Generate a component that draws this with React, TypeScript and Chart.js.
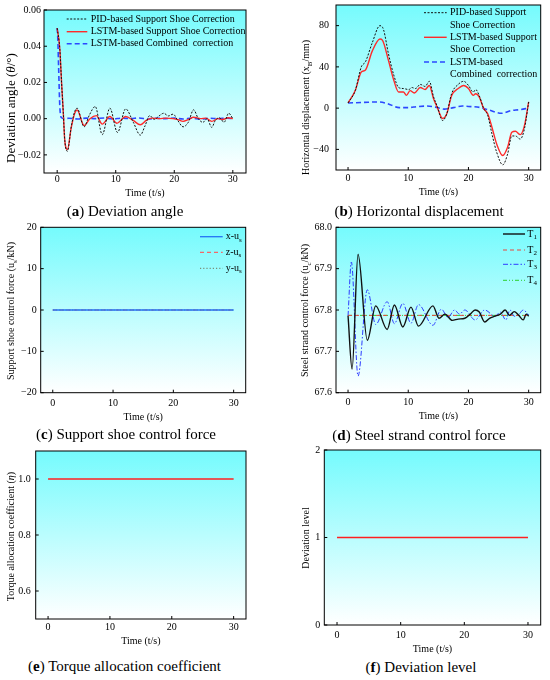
import { useEffect, useRef } from 'react';
import { Chart, registerables } from 'chart.js';

Chart.register(...registerables);

const SERIF = '"Liberation Serif", "Times New Roman", serif';

// ---- (a) deviation angle ----
const aPidT = [0, 0.45, 0.75, 1.05, 1.3, 1.75, 2.4, 3.0, 3.4, 4.6, 5.5, 6.5, 7.7, 9.0, 10.3, 11.7, 13.0, 14.2, 15.0, 15.8, 16.6, 17.4, 18.2, 19.0, 19.8, 20.6, 21.5, 22.4, 23.3, 24.1, 24.9, 25.6, 26.4, 27.0, 27.7, 28.5, 29.3, 30];
const aPidV = [0.05, 0.0385, 0.02, 0.003, -0.012, -0.018, -0.0045, 0.004, 0.0058, -0.0045, 0.002, 0.0067, -0.0088, 0.0058, -0.0076, 0.0054, -0.002, -0.0091, -0.004, 0.0017, -0.0004, 0.0015, 0.003, 0.0015, 0.0025, -0.001, -0.0045, -0.002, 0.0049, 0.0, -0.002, 0.0, -0.0048, -0.001, 0.0005, -0.002, 0.003, 0.0];
const aLstmT = [0, 0.45, 0.75, 1.05, 1.3, 1.75, 2.4, 3.0, 3.4, 4.6, 5.6, 6.7, 7.7, 9.0, 10.2, 11.7, 13.0, 14.2, 15.2, 16.2, 17.5, 18.5, 19.8, 20.6, 21.5, 22.4, 23.3, 24.5, 25.4, 26.4, 27.5, 28.3, 29.2, 30];
const aLstmV = [0.05, 0.0385, 0.02, 0.003, -0.012, -0.017, -0.005, 0.003, 0.0048, -0.0038, 0.0, 0.0017, -0.003, 0.0012, -0.0025, 0.0012, -0.001, -0.0034, -0.001, 0.0003, 0.0, 0.0003, 0.0, -0.0005, -0.0015, -0.0005, 0.0008, 0.0, 0.0003, -0.0015, 0.0, -0.0005, 0.0005, 0.0];
const aCombT = [0, 0.1, 0.25, 0.45, 0.75, 1.2, 2, 3.5, 5, 6.5, 8, 9.5, 11, 12.5, 14, 15.5, 17, 18.5, 20, 21.5, 23, 24.5, 26, 27.5, 29, 30];
const aCombV = [0.05, 0.045, 0.028, 0.007, 0.0005, 0.0, 0.0002, -0.0002, 0.0003, 0.0, 0.0004, -0.0002, 0.0003, 0.0, 0.0004, -0.0003, 0.0002, 0.0, 0.0003, -0.0002, 0.0003, -0.0003, 0.0002, 0.0, 0.0003, 0.0];
const aLabels = ['PID-based Support Shoe Correction', 'LSTM-based Support Shoe Correction', 'LSTM-based Combined  correction'];

// ---- (b) horizontal displacement ----
const bPidT = [0, 1.2, 2.2, 2.9, 4.0, 5.3, 5.9, 6.7, 7.6, 8.4, 9.2, 10.1, 10.6, 11.2, 12.0, 12.8, 13.5, 14.2, 14.8, 15.7, 16.4, 17.2, 18.3, 19.2, 20.0, 20.8, 21.2, 21.8, 22.5, 23.2, 23.9, 24.7, 25.7, 26.5, 27.2, 27.8, 28.6, 29.3, 30];
const bPidV = [5, 17, 40, 45, 63, 80, 76, 53, 32, 20, 19, 18, 20, 19, 23, 21, 26, 11, 2, -12, -5.5, 14, 23, 26, 22, 15.6, 18, 12, 0, -7, -25, -43, -55, -44.6, -27, -27, -30, -20, 6];
const bLstmT = [0, 1.2, 2.2, 2.9, 4.0, 5.3, 5.7, 6.7, 7.6, 8.4, 9.2, 9.7, 10.3, 11.0, 12.0, 12.8, 13.5, 14.2, 14.8, 15.7, 16.4, 17.2, 18.3, 19.2, 20.0, 20.8, 21.2, 21.8, 22.5, 23.2, 23.9, 24.7, 25.7, 26.5, 27.2, 27.8, 28.6, 29.3, 30];
const bLstmV = [5, 17, 35, 37, 55, 67, 66, 46.5, 27, 15.6, 15.6, 12.4, 17, 14.6, 20, 18, 22, 9, 1, -10, -5.5, 12, 19, 22, 19, 12.4, 14, 10.7, 0, -5.5, -18.5, -35, -46, -38, -23.4, -22.4, -25.7, -17, 6];
const bCombT = [0, 2.5, 5, 6.5, 8.5, 10, 11.5, 13, 14.5, 16, 17.5, 19, 20.5, 22, 23.5, 25.5, 27, 28.5, 30];
const bCombV = [5, 5.5, 6, 4.5, 0.5, 0.5, 1.5, 2, 1, -1, 0.5, 2, 1.5, 0.5, -2, -5, -2.5, -1.5, 0];
const bLabels = [['PID-based Support', 'Shoe Correction'], ['LSTM-based Support', 'Shoe Correction'], ['LSTM-based', 'Combined  correction']];

// ---- (c) support shoe control force ----
const cT = [0, 30];
const cX = [0, 0];
const cZ = [0, 0];
const cY = [0, 0];

// ---- (d) steel strand control force ----
const dT1T = [0, 0.67, 1.66, 3.2, 4.6, 6.5, 7.7, 9.1, 10.45, 11.7, 14.1, 15.1, 16.1, 17.3, 18.3, 19.4, 20.3, 21.1, 21.8, 22.7, 23.5, 24.4, 25.3, 26.1, 26.8, 27.6, 28.3, 29.1, 29.6, 30];
const dT1V = [67.786, 67.657, 67.935, 67.727, 67.81, 67.753, 67.812, 67.759, 67.807, 67.761, 67.81, 67.78, 67.79, 67.775, 67.778, 67.78, 67.79, 67.8, 67.795, 67.771, 67.78, 67.785, 67.79, 67.8, 67.787, 67.796, 67.788, 67.776, 67.79, 67.785];
const dT3T = [0, 0.55, 1.66, 3.2, 4.6, 6.5, 7.7, 9.1, 10.45, 11.7, 14.1, 15.5, 16.6, 17.7, 18.5, 19.4, 21.1, 22.7, 24.4, 25.3, 26.2, 26.9, 27.6, 28.3, 29.1, 30];
const dT3V = [67.786, 67.916, 67.64, 67.849, 67.765, 67.82, 67.767, 67.816, 67.768, 67.813, 67.763, 67.802, 67.782, 67.8, 67.79, 67.8, 67.776, 67.8, 67.785, 67.795, 67.776, 67.8, 67.785, 67.788, 67.8, 67.788];
const dConstT = [0, 30];
const dT2V = [67.787, 67.787];
const dT4V = [67.787, 67.787];

// ---- (e) torque allocation coefficient, (f) deviation level ----
const eT = [0, 30];
const eV = [1, 1];
const fT = [0, 30];
const fV = [1, 1];

// tick labels
const xTicks = [0, 10, 20, 30];
const aYTicks = [-0.02, 0, 0.02, 0.04, 0.06];
const bYTicks = [-40, 0, 40, 80];
const cYTicks = [-20, -10, 0, 10, 20];
const dYTicks = [67.6, 67.7, 67.8, 67.9, 68.0];
const eYTicks = [0.6, 0.8, 1.0];
const fYTicks = [0, 1, 2];

type Seg = { t: string; s?: 'i' | 'sub' };
type Row = { y: number; segs: Seg[]; ds?: number };
type Spec = {
  key: string;
  plot: number[];
  xRange: number[];
  yRange: number[];
  yTicks: number[];
  yFmt: (v: number) => string;
  yPad: number;
  xPad: number;
  datasets: any[];
  yTitle: Seg[];
  yTitleSize: number;
  yTitleAt: number[];
  xTitleY: number;
  legend?: { x1: number; x2: number; tx: number; rows: Row[] };
};

const minus = (s: string) => s.replace('-', '\u2212');
const plain = (t: string): Seg[] => [{ t }];
const subbed = (a: string, b: string): Seg[] => [{ t: a }, { t: b, s: 'sub' }];

const line = (label: string, ts: number[], vs: number[], color: string, width: number, dash: number[] = []) => ({
  label,
  data: ts.map((t, i) => ({ x: t, y: vs[i] })),
  borderColor: color,
  borderWidth: width,
  borderDash: dash,
  pointRadius: 0,
  fill: false,
  cubicInterpolationMode: 'monotone',
});

const RED = '#ff2a2a';
const BLUE = '#2b48ff';

const fontOf = (seg: Seg, size: number) => {
  if (seg.s === 'sub') return `${size * 0.7}px ${SERIF}`;
  if (seg.s === 'i') return `italic ${size}px ${SERIF}`;
  return `${size}px ${SERIF}`;
};

function drawRich(ctx: CanvasRenderingContext2D, segs: Seg[], x: number, y: number, size: number, center: boolean) {
  let w = 0;
  segs.forEach((s) => {
    ctx.font = fontOf(s, size);
    w += ctx.measureText(s.t).width;
  });
  let cx = center ? x - w / 2 : x;
  ctx.textAlign = 'left';
  ctx.textBaseline = 'middle';
  ctx.fillStyle = '#000';
  segs.forEach((s) => {
    ctx.font = fontOf(s, size);
    ctx.fillText(s.t, cx, s.s === 'sub' ? y + size * 0.3 : y);
    cx += ctx.measureText(s.t).width;
  });
}

const specs: Spec[] = [
  {
    key: 'a',
    plot: [44, 10, 246, 173],
    xRange: [-2.25, 32.25],
    yRange: [-0.03, 0.06],
    yTicks: aYTicks,
    yFmt: (v) => minus(v.toFixed(2)),
    yPad: 3,
    xPad: 0,
    datasets: [
      line(aLabels[0], aPidT, aPidV, '#111', 1, [2, 1.5]),
      line(aLabels[1], aLstmT, aLstmV, RED, 1.4),
      line(aLabels[2], aCombT, aCombV, BLUE, 1.6, [5, 3]),
    ],
    yTitle: [{ t: 'Deviation angle (' }, { t: 'θ', s: 'i' }, { t: '/°)' }],
    yTitleSize: 13,
    yTitleAt: [12, 108],
    xTitleY: 193.5,
    legend: {
      x1: 66.7, x2: 87.3, tx: 90.7,
      rows: [
        { y: 19, segs: plain(aLabels[0]), ds: 0 },
        { y: 31.7, segs: plain(aLabels[1]), ds: 1 },
        { y: 43.7, segs: plain(aLabels[2]), ds: 2 },
      ],
    },
  },
  {
    key: 'b',
    plot: [336, 4, 540.7, 170],
    xRange: [-2, 32],
    yRange: [-60, 100],
    yTicks: bYTicks,
    yFmt: (v) => minus(String(v)),
    yPad: 7,
    xPad: 2,
    datasets: [
      line(bLabels[0].join(' '), bPidT, bPidV, '#111', 1, [2, 1.5]),
      line(bLabels[1].join(' '), bLstmT, bLstmV, RED, 1.4),
      line(bLabels[2].join(' '), bCombT, bCombV, BLUE, 1.6, [5, 3]),
    ],
    yTitle: subbed('Horizontal displacement (x', 'B').concat(plain('/mm)')),
    yTitleSize: 10,
    yTitleAt: [306.7, 107.5],
    xTitleY: 192.7,
    legend: {
      x1: 424, x2: 446.7, tx: 450,
      rows: [
        { y: 12.7, segs: plain(bLabels[0][0]), ds: 0 },
        { y: 25, segs: plain(bLabels[0][1]) },
        { y: 37.3, segs: plain(bLabels[1][0]), ds: 1 },
        { y: 49.7, segs: plain(bLabels[1][1]) },
        { y: 62, segs: plain(bLabels[2][0]), ds: 2 },
        { y: 74.3, segs: plain(bLabels[2][1]) },
      ],
    },
  },
  {
    key: 'c',
    plot: [40.7, 227.3, 245.7, 392.7],
    xRange: [-2, 32],
    yRange: [-20, 20],
    yTicks: cYTicks,
    yFmt: (v) => minus(String(v)),
    yPad: 4,
    xPad: 4.5,
    datasets: [
      line('x-us', cT, cX, '#2373f5', 1.3),
      line('z-us', cT, cZ, '#f06a6a', 1.2, [4, 3]),
      line('y-us', cT, cY, '#7a8f7a', 1.2, [1.2, 2]),
    ],
    yTitle: subbed('Support shoe control force (u', 's').concat(plain('/kN)')),
    yTitleSize: 10,
    yTitleAt: [11.7, 311],
    xTitleY: 417,
    legend: {
      x1: 200, x2: 222.7, tx: 225.7,
      rows: [
        { y: 236.7, segs: subbed('x-u', 's'), ds: 0 },
        { y: 252.3, segs: subbed('z-u', 's'), ds: 1 },
        { y: 268.3, segs: subbed('y-u', 's'), ds: 2 },
      ],
    },
  },
  {
    key: 'd',
    plot: [336, 227.3, 540.7, 392.7],
    xRange: [-2, 32],
    yRange: [67.6, 68.0],
    yTicks: dYTicks,
    yFmt: (v) => v.toFixed(1),
    yPad: 4,
    xPad: 4,
    datasets: [
      line('T1', dT1T, dT1V, '#111', 1.4),
      line('T2', dConstT, dT2V, '#e8493f', 1, [4, 3]),
      line('T3', dT3T, dT3V, '#2d3cff', 1, [5, 2, 1.5, 2]),
      line('T4', dConstT, dT4V, '#2ccf2c', 1, [4, 2, 1, 2, 1, 2]),
    ],
    yTitle: subbed('Steel strand control force (u', 'c').concat(plain('/kN)')),
    yTitleSize: 10,
    yTitleAt: [305.7, 310.5],
    xTitleY: 416.7,
    legend: {
      x1: 503, x2: 525, tx: 527.3,
      rows: [
        { y: 234, segs: subbed('T', '1'), ds: 0 },
        { y: 250, segs: subbed('T', '2'), ds: 1 },
        { y: 264.3, segs: subbed('T', '3'), ds: 2 },
        { y: 280.3, segs: subbed('T', '4'), ds: 3 },
      ],
    },
  },
  {
    key: 'e',
    plot: [35.7, 451, 246, 619],
    xRange: [-2, 32],
    yRange: [0.5, 1.1],
    yTicks: eYTicks,
    yFmt: (v) => v.toFixed(1),
    yPad: 5,
    xPad: 2,
    datasets: [line('η', eT, eV, '#ff2020', 1.5)],
    yTitle: [{ t: 'Torque allocation coefficient (' }, { t: 'η', s: 'i' }, { t: ')' }],
    yTitleSize: 10,
    yTitleAt: [11.7, 536.6],
    xTitleY: 641.7,
  },
  {
    key: 'f',
    plot: [324.3, 450, 540.7, 625],
    xRange: [-2, 32],
    yRange: [0, 2],
    yTicks: fYTicks,
    yFmt: (v) => minus(String(v)),
    yPad: 4,
    xPad: 4.5,
    datasets: [line('level', fT, fV, '#ff2020', 1.5)],
    yTitle: plain('Deviation level'),
    yTitleSize: 10,
    yTitleAt: [306.7, 538],
    xTitleY: 649,
  },
];

const captions = [
  { letter: 'a', text: 'Deviation angle', x: 125, y: 211 },
  { letter: 'b', text: 'Horizontal displacement', x: 419, y: 211 },
  { letter: 'c', text: 'Support shoe control force', x: 126, y: 434 },
  { letter: 'd', text: 'Steel strand control force', x: 419, y: 435 },
  { letter: 'e', text: 'Torque allocation coefficient', x: 124.5, y: 666 },
  { letter: 'f', text: 'Deviation level', x: 421, y: 667 },
];

function Panel({ spec }: { spec: Spec }) {
  const canvasRef = useRef<HTMLCanvasElement>(null);
  const [L, T, R, B] = spec.plot;
  const left = Math.round(L - 45);
  const top = Math.round(T - 12);
  const width = Math.round(R + 6 - left);
  const height = Math.round(B + 32 - top);

  useEffect(() => {
    if (!canvasRef.current) return;

    const decor = {
      id: 'decor',
      beforeDraw(chart: any) {
        const { ctx, chartArea: a } = chart;
        const g = ctx.createLinearGradient(0, a.top, 0, a.bottom);
        g.addColorStop(0, '#75fbfd');
        g.addColorStop(1, '#ffffff');
        ctx.save();
        ctx.fillStyle = g;
        ctx.fillRect(a.left, a.top, a.right - a.left, a.bottom - a.top);
        ctx.restore();
      },
      afterDraw(chart: any) {
        const { ctx, chartArea: a, scales } = chart;
        ctx.save();
        // frame and inward ticks
        ctx.strokeStyle = '#000';
        ctx.lineWidth = 1;
        ctx.setLineDash([]);
        ctx.strokeRect(a.left, a.top, a.right - a.left, a.bottom - a.top);
        ctx.beginPath();
        xTicks.forEach((v) => {
          const px = scales.x.getPixelForValue(v);
          ctx.moveTo(px, a.bottom);
          ctx.lineTo(px, a.bottom - 3);
        });
        spec.yTicks.forEach((v) => {
          const py = scales.y.getPixelForValue(v);
          ctx.moveTo(a.left, py);
          ctx.lineTo(a.left + 3, py);
        });
        ctx.stroke();

        // axis titles
        drawRich(ctx, plain('Time (t/s)'), (a.left + a.right) / 2, spec.xTitleY - top, 10, true);
        ctx.save();
        ctx.translate(spec.yTitleAt[0] - left, spec.yTitleAt[1] - top);
        ctx.rotate(-Math.PI / 2);
        drawRich(ctx, spec.yTitle, 0, 0, spec.yTitleSize, true);
        ctx.restore();

        // legend inside the plot
        const lg = spec.legend;
        if (lg) {
          lg.rows.forEach((row) => {
            const y = row.y - top;
            if (row.ds !== undefined) {
              const ds = chart.data.datasets[row.ds];
              ctx.save();
              ctx.strokeStyle = ds.borderColor;
              ctx.lineWidth = ds.borderWidth;
              ctx.setLineDash(ds.borderDash || []);
              ctx.beginPath();
              ctx.moveTo(lg.x1 - left, y);
              ctx.lineTo(lg.x2 - left, y);
              ctx.stroke();
              ctx.restore();
            }
            drawRich(ctx, row.segs, lg.tx - left, y, 10, false);
          });
        }
        ctx.restore();
      },
    };

    const tickFont = { family: SERIF, size: 10 };
    const chart = new Chart(canvasRef.current, {
      type: 'line',
      data: { datasets: spec.datasets },
      options: {
        responsive: false,
        maintainAspectRatio: false,
        animation: false,
        events: [],
        layout: { padding: { left: 0, top: T - top, right: left + width - R, bottom: 0 } },
        plugins: { legend: { display: false }, tooltip: { enabled: false } },
        scales: {
          x: {
            type: 'linear',
            min: spec.xRange[0],
            max: spec.xRange[1],
            grid: { display: false, drawTicks: false },
            border: { display: false },
            afterBuildTicks: (s: any) => {
              s.ticks = xTicks.map((v) => ({ value: v }));
            },
            afterFit: (s: any) => {
              s.height = top + height - B;
            },
            ticks: {
              autoSkip: false,
              maxRotation: 0,
              padding: spec.xPad,
              color: '#000',
              font: tickFont,
              callback: (v: any) => String(v),
            },
          },
          y: {
            type: 'linear',
            min: spec.yRange[0],
            max: spec.yRange[1],
            grid: { display: false, drawTicks: false },
            border: { display: false },
            afterBuildTicks: (s: any) => {
              s.ticks = spec.yTicks.map((v) => ({ value: v }));
            },
            afterFit: (s: any) => {
              s.width = L - left;
            },
            ticks: {
              autoSkip: false,
              padding: spec.yPad,
              color: '#000',
              font: tickFont,
              callback: (v: any) => spec.yFmt(Number(v)),
            },
          },
        },
      } as any,
      plugins: [decor],
    });

    return () => chart.destroy();
  }, []);

  return (
    <canvas
      ref={canvasRef}
      width={width}
      height={height}
      style={{ position: 'absolute', left, top, width, height }}
    />
  );
}

export default function App() {
  return (
    <div style={{ position: 'absolute', left: 0, top: 0, width: 550, height: 680, background: '#fff', overflow: 'hidden' }}>
      {specs.map((s) => (
        <Panel key={s.key} spec={s} />
      ))}
      {captions.map((c) => (
        <div
          key={c.letter}
          style={{
            position: 'absolute',
            left: c.x,
            top: c.y,
            transform: 'translate(-50%, -50%)',
            whiteSpace: 'nowrap',
            fontFamily: SERIF,
            fontSize: 15,
            color: '#000',
          }}
        >
          (<b>{c.letter}</b>) {c.text}
        </div>
      ))}
    </div>
  );
}
